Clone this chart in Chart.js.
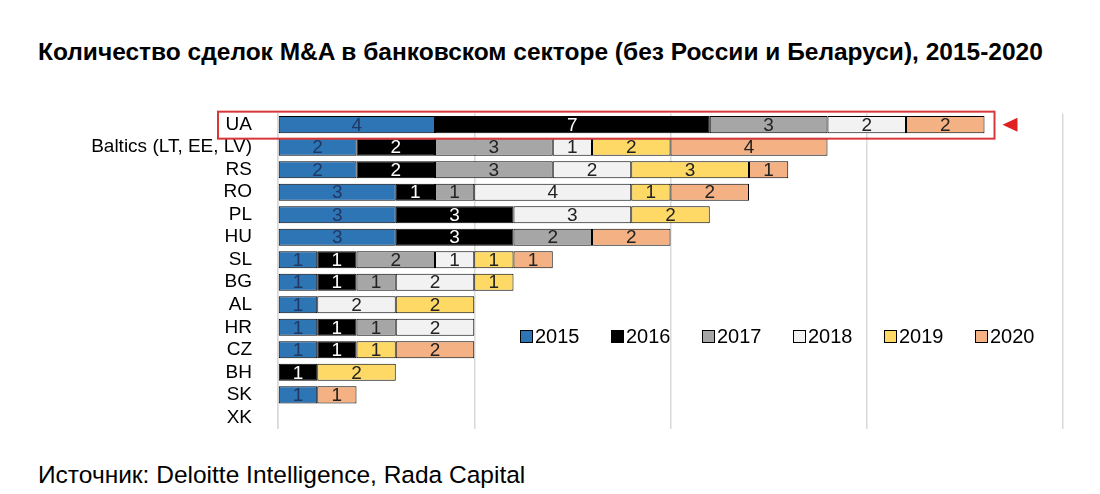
<!DOCTYPE html>
<html>
<head>
<meta charset="utf-8">
<script src="https://cdn.jsdelivr.net/npm/chart.js@4"></script>
<style>
  body { margin:0; background:#fff; font-family:"Liberation Sans", Arial, sans-serif; }
  #wrap { position:relative; width:1100px; height:494px; }
  #title { position:absolute; left:38px; top:38px; font-size:24.5px; font-weight:bold; color:#000; white-space:nowrap; }
  #box { position:absolute; left:0; top:84px; width:1100px; height:374px; }
  #legend { position:absolute; left:520px; top:325px; display:flex; font-size:20px; color:#000; }
  #legend span.item { display:flex; align-items:center; width:91px; }
  #legend i { display:inline-block; width:11px; height:11px; border:1px solid #000; margin-right:2px; }
  #source { position:absolute; left:38px; top:461px; font-size:24.5px; color:#000; white-space:nowrap; }
</style>
</head>
<body>
<div id="wrap">
  <div id="title">Количество сделок M&amp;A в банковском секторе (без России и Беларуси), 2015-2020</div>
  <div id="box"><canvas id="chart" width="1100" height="374"></canvas></div>
  <div id="legend"></div>
  <div id="source">Источник: Deloitte Intelligence, Rada Capital</div>
</div>
<script>
// ------ Data ------
const countries = ['UA','Baltics (LT, EE, LV)','RS','RO','PL','HU','SL','BG','AL','HR','CZ','BH','SK','XK'];
const years = ['2015','2016','2017','2018','2019','2020'];
const d2015 = [4,2,2,3,3,3,1,1,1,1,1,0,1,0];
const d2016 = [7,2,2,1,3,3,1,1,0,1,1,1,0,0];
const d2017 = [3,3,3,1,0,2,2,1,0,1,0,0,0,0];
const d2018 = [2,1,2,4,3,0,1,2,2,2,0,0,0,0];
const d2019 = [0,2,3,1,2,0,1,1,2,0,1,2,0,0];
const d2020 = [2,4,1,2,0,2,1,0,0,0,2,0,1,0];
const xTicks = [0,5,10,15,20];

const colors = ['#2e75b6','#000000','#a6a6a6','#f2f2f2','#ffd966','#f4b183'];
const labelColors = ['#1f3864','#ffffff','#222','#222','#222','#222'];
const series = [d2015,d2016,d2017,d2018,d2019,d2020];

// legend (HTML)
const leg = document.getElementById('legend');
years.forEach((y,i) => {
  const s = document.createElement('span'); s.className = 'item';
  s.innerHTML = `<i style="background:${colors[i]}"></i>${y}`;
  leg.appendChild(s);
});

// numbers inside segments + red highlight for UA
const overlay = {
  id: 'overlay',
  afterDatasetsDraw(chart){
    const ctx = chart.ctx;
    ctx.save();
    ctx.font = '19px "Liberation Sans", Arial';
    ctx.textAlign = 'center'; ctx.textBaseline = 'middle';
    chart.data.datasets.forEach((ds, di) => {
      chart.getDatasetMeta(di).data.forEach((bar, i) => {
        const v = ds.data[i];
        if (!v) return;
        ctx.fillStyle = labelColors[di];
        ctx.fillText(v, (bar.x + bar.base) / 2, bar.y + 1);
      });
    });
    // UA box
    const y = chart.scales.y.getPixelForValue(0);
    const x = chart.scales.x;
    ctx.strokeStyle = '#d9383a'; ctx.lineWidth = 2;
    ctx.strokeRect(218, y - 13, x.getPixelForValue(18) + 10 - 218, 27);
    ctx.fillStyle = '#e02020';
    const tx = x.getPixelForValue(18) + 18;
    ctx.beginPath(); ctx.moveTo(tx, y); ctx.lineTo(tx + 15, y - 7); ctx.lineTo(tx + 15, y + 7); ctx.closePath(); ctx.fill();
    ctx.restore();
  }
};

new Chart(document.getElementById('chart'), {
  type: 'bar',
  data: {
    labels: countries,
    datasets: series.map((s, i) => ({
      label: years[i], data: s, backgroundColor: colors[i],
      borderColor: '#000', borderWidth: 1, borderSkipped: false,
      barPercentage: 1, categoryPercentage: 0.76
    }))
  },
  options: {
    indexAxis: 'y', responsive: false, animation: false,
    layout: { padding: { left: 0, right: 37, top: 0, bottom: 0 } },
    plugins: { legend: { display: false }, tooltip: { enabled: false } },
    scales: {
      x: {
        stacked: true, min: xTicks[0], max: xTicks[xTicks.length - 1],
        afterBuildTicks: s => { s.ticks = xTicks.map(v => ({ value: v })); },
        ticks: { display: false },
        grid: { color: '#d9d9d9', lineWidth: 1.5, drawTicks: false },
        border: { display: false }
      },
      y: {
        stacked: true,
        afterFit: s => { s.width = 278; },
        ticks: { color: '#000', autoSkip: false, font: { size: 19, family: '"Liberation Sans", Arial' }, padding: 18 },
        grid: { display: false },
        border: { color: '#d9d9d9', width: 1.5 }
      }
    }
  },
  plugins: [overlay]
});
</script>
</body>
</html>
